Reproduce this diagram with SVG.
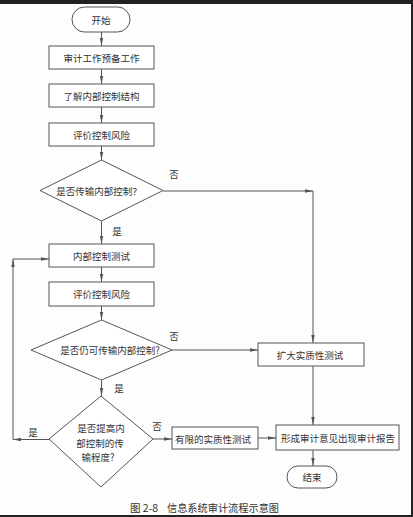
<svg xmlns="http://www.w3.org/2000/svg" width="413" height="517" viewBox="0 0 413 517">
<style>
.box{fill:#fff;stroke:#555;stroke-width:1}
.t{font-family:"Noto Sans CJK SC","Liberation Sans",sans-serif;font-size:9.5px;fill:#333;text-anchor:middle;dominant-baseline:central}
.c{fill:none;stroke:#555;stroke-width:1;marker-end:url(#ah)}
.l{fill:none;stroke:#555;stroke-width:1}
</style>
<defs>
<marker id="ah" markerWidth="8" markerHeight="5" refX="8" refY="2.5" orient="auto" markerUnits="userSpaceOnUse">
<path d="M0,0.8 L8,2.5 L0,4.2 Z" fill="#555"/>
</marker>
</defs>
<rect x="0" y="0" width="413" height="517" fill="#fdfdfd"/>
<rect x="0" y="0" width="413" height="4" fill="#222"/>
<rect x="411" y="0" width="2" height="517" fill="#222"/>
<rect x="0" y="515" width="413" height="2" fill="#222"/>

<g id="connectors">
<line class="c" x1="101.5" y1="32" x2="101.5" y2="46"/>
<line class="c" x1="101.5" y1="69" x2="101.5" y2="84"/>
<line class="c" x1="101.5" y1="107" x2="101.5" y2="123"/>
<line class="c" x1="101.5" y1="146" x2="101.5" y2="160"/>
<line class="c" x1="163" y1="191" x2="313" y2="191"/>
<line class="c" x1="313" y1="191" x2="313" y2="343"/>
<line class="c" x1="101.5" y1="221" x2="101.5" y2="244"/>
<line class="c" x1="101.5" y1="267" x2="101.5" y2="282"/>
<line class="c" x1="101.5" y1="306" x2="101.5" y2="320"/>
<line class="c" x1="172" y1="350" x2="258" y2="350"/>
<line class="c" x1="101.5" y1="380" x2="101.5" y2="396"/>
<line class="c" x1="49" y1="439.5" x2="13" y2="439.5"/>
<line class="c" x1="13" y1="439.5" x2="13" y2="259"/>
<line class="c" x1="13" y1="259" x2="49" y2="259"/>
<line class="c" x1="153" y1="439" x2="172" y2="439"/>
<line class="c" x1="258" y1="438" x2="276" y2="438"/>
<line class="c" x1="313" y1="366" x2="313" y2="425"/>
<line class="c" x1="313" y1="450" x2="313" y2="466"/>
</g>

<g id="start">
<rect class="box" x="72" y="7" width="58" height="25" rx="12.5"/>
<text class="t" x="101" y="19.5">开始</text>
</g>
<g id="prep">
<rect class="box" x="49" y="46" width="105" height="23"/>
<text class="t" x="101.5" y="57.5">审计工作预备工作</text>
</g>
<g id="understand">
<rect class="box" x="49" y="84" width="105" height="23"/>
<text class="t" x="101.5" y="95.5">了解内部控制结构</text>
</g>
<g id="assess1">
<rect class="box" x="49" y="123" width="105" height="23"/>
<text class="t" x="101.5" y="134.5">评价控制风险</text>
</g>
<g id="decision1">
<polygon class="box" points="101.5,160 163,190.5 101.5,221 40,190.5"/>
<text class="t" x="99" y="190.5">是否传输内部控制？</text>
</g>
<g id="test">
<rect class="box" x="49" y="244" width="105" height="23"/>
<text class="t" x="101.5" y="255.5">内部控制测试</text>
</g>
<g id="assess2">
<rect class="box" x="49" y="282" width="105" height="24"/>
<text class="t" x="101.5" y="294">评价控制风险</text>
</g>
<g id="decision2">
<polygon class="box" points="101.5,320 172,350 101.5,380 31,350"/>
<text class="t" x="110" y="350">是否仍可传输内部控制?</text>
</g>
<g id="decision3">
<polygon class="box" points="101,396 153,439 101,487 49,439"/>
<text class="t" x="101" y="428">是否提高内</text>
<text class="t" x="100" y="442.5">部控制的传</text>
<text class="t" x="98" y="457">输程度?</text>
</g>
<g id="expand">
<rect class="box" x="258" y="343" width="106" height="23"/>
<text class="t" x="310" y="354.5">扩大实质性测试</text>
</g>
<g id="limited">
<rect class="box" x="172" y="427" width="86" height="22"/>
<text class="t" x="213" y="438.5">有限的实质性测试</text>
</g>
<g id="report">
<rect class="box" x="276" y="425" width="123" height="25"/>
<text class="t" x="338" y="437.5">形成审计意见出现审计报告</text>
</g>
<g id="end">
<rect class="box" x="287" y="466" width="50" height="22" rx="11"/>
<text class="t" x="312" y="477">结束</text>
</g>

<g id="labels">
<text class="t" x="174" y="174">否</text>
<text class="t" x="117" y="231">是</text>
<text class="t" x="174" y="336">否</text>
<text class="t" x="119" y="388">是</text>
<text class="t" x="33" y="432">是</text>
<text class="t" x="157" y="426">否</text>
</g>
<g id="caption">
<text class="t" style="font-size:10.5px;text-anchor:start" x="130" y="507">图 2-8</text>
<text class="t" style="font-size:10.2px;text-anchor:start" x="167" y="507">信息系统审计流程示意图</text>
</g>
</svg>
